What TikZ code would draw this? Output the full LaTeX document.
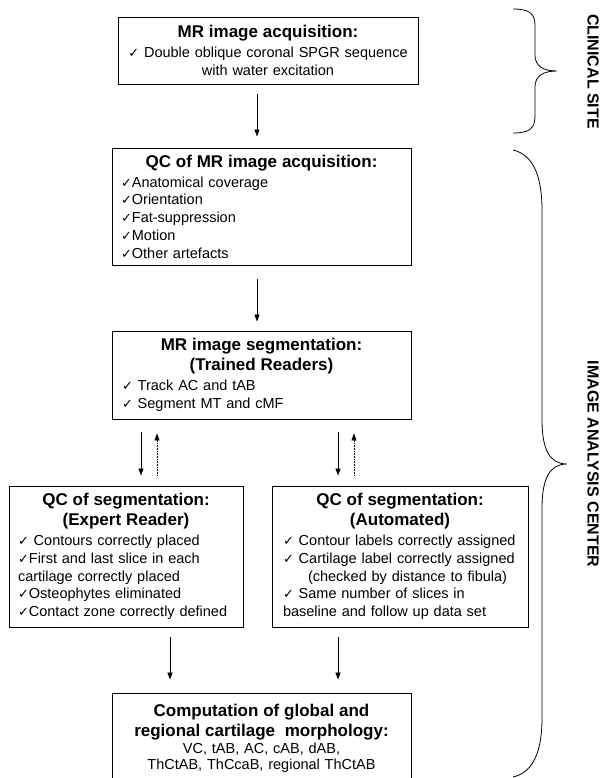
\documentclass[tikz,border=0pt]{standalone}
\usepackage{fontspec}
\setmainfont{Liberation Sans}
\newfontfamily\symfont{DejaVu Sans}
\usetikzlibrary{arrows.meta}
\newcommand\bodyfont{\fontsize{14.5}{17.75}\selectfont\lineskiplimit=-50pt\relax}
\newcommand\ttl[1]{{\fontsize{17}{20}\selectfont\bfseries #1}}
\newcommand\chk{{\symfont\fontsize{13}{10}\selectfont ✓}}
\newcommand\ctr[1]{\leavevmode\null\hfill#1\hfill\null}

\begin{document}
\begin{tikzpicture}[x=1pt,y=-1pt,
  stage/.style={draw,line width=0.9pt,inner ysep=1pt,font=\bodyfont},
  arr/.style={line width=0.8pt,-{Triangle[length=7pt,width=5pt]}},
  back/.style={line width=0.6pt,densely dotted,-{Triangle[length=7pt,width=5pt]}},
  side/.style={rotate=-90,font=\fontsize{16}{16}\selectfont\bfseries},
  brace/.style={line width=0.8pt}]
       \useasboundingbox (0,0) rectangle (602,778);
       \clip (0,0) rectangle (602,778);

        \node[stage,align=center,inner xsep=6pt,minimum width=300pt,minimum height=67pt,text width=288pt] (acq) at (268,50.5)
          {\ttl{MR image acquisition:}\\[2.25pt]\chk\ Double oblique coronal SPGR sequence\\with water excitation};
        \node[stage,align=left,inner xsep=9pt,minimum width=299pt,minimum height=117pt,text width=281pt] (qcacq) at (261.5,206.5)
          {\ctr{\ttl{QC of MR image acquisition:}}\\[2.25pt]\chk Anatomical coverage\\\chk Orientation\\\chk Fat-suppression\\\chk Motion\\\chk Other artefacts};
        \node[stage,align=left,inner xsep=10pt,minimum width=299pt,minimum height=88pt,text width=279pt] (seg) at (261.5,375)
          {\ctr{\ttl{MR image segmentation:}}\\[2.25pt]\ctr{\ttl{(Trained Readers)}}\\[2.25pt]\chk\ Track AC and tAB\\\chk\ Segment MT and cMF};
        \node[stage,align=left,inner xsep=9pt,minimum width=234pt,minimum height=141pt,text width=216pt] (qcexp) at (126,556.5)
          {\ctr{\ttl{QC of segmentation:}}\\[2.25pt]\ctr{\ttl{(Expert Reader)}}\\[2.25pt]\chk\ Contours correctly placed\\\chk First and last slice in each\\cartilage correctly placed\\\chk Osteophytes eliminated\\\chk Contact zone correctly defined};
        \node[stage,align=left,inner xsep=11pt,minimum width=256pt,minimum height=141pt,text width=234pt] (qcauto) at (400,556.5)
          {\ctr{\ttl{QC of segmentation:}}\\[2.25pt]\ctr{\ttl{(Automated)}}\\[2.25pt]\chk\ Contour labels correctly assigned\\\chk\ Cartilage label correctly assigned\\\hspace*{25pt}(checked by distance to fibula)\\\chk\ Same number of slices in\\baseline and follow up data set};
        \node[stage,align=center,inner xsep=6pt,minimum width=299pt,minimum height=91.6pt,text width=287pt] (morph) at (261.5,738.8)
          {\ttl{Computation of global and}\\[2.25pt]\ttl{regional cartilage\ \ morphology:}\\[-1pt]VC, tAB, AC, cAB, dAB,\\[-1.5pt]ThCtAB, ThCcaB, regional ThCtAB};

        \node[side] (clin) at (593,71.5) {CLINICAL SITE};
        \node[side] (iac) at (593,464) {IMAGE ANALYSIS CENTER};

        \coordinate (m) at (257,0);
        \coordinate (l1) at (141,0);
        \coordinate (l2) at (157,0);
        \coordinate (r1) at (338,0);
        \coordinate (r2) at (354,0);
        \coordinate (b1) at (170,0);

        \draw[arr,shorten <=10pt,shorten >=11pt] (acq.south -| m) -- (qcacq.north -| m);
        \draw[arr,shorten <=14pt,shorten >=9pt] (qcacq.south -| m) -- (seg.north -| m);
        \draw[arr,shorten <=13pt,shorten >=10pt] (seg.south -| l1) -- (qcexp.north -| l1);
        \draw[back,shorten <=10pt,shorten >=14pt] (qcexp.north -| l2) -- (seg.south -| l2);
        \draw[arr,shorten <=13pt,shorten >=10pt] (seg.south -| r1) -- (qcauto.north -| r1);
        \draw[back,shorten <=10pt,shorten >=14pt] (qcauto.north -| r2) -- (seg.south -| r2);
        \draw[arr,shorten <=10pt,shorten >=13pt] (qcexp.south -| b1) -- (morph.north -| b1);
        \draw[arr,shorten <=10pt,shorten >=13pt] (qcauto.south -| r1) -- (morph.north -| r1);

        \draw[brace] (513,9) .. controls (530,9) and (535,14) .. (535,26) -- (535,55)
          .. controls (535,66) and (543,71) .. (557,71) .. controls (543,71) and (535,76) .. (535,87)
          -- (535,116) .. controls (535,128) and (530,133) .. (513,133);
        \draw[brace] (513,150) .. controls (535,155) and (542,180) .. (542,210) -- (542,420)
          .. controls (542,450) and (550,464) .. (567,464) .. controls (550,464) and (542,478) .. (542,508)
          -- (542,718) .. controls (542,748) and (535,772) .. (513,777);
      \end{tikzpicture}
\end{document}
